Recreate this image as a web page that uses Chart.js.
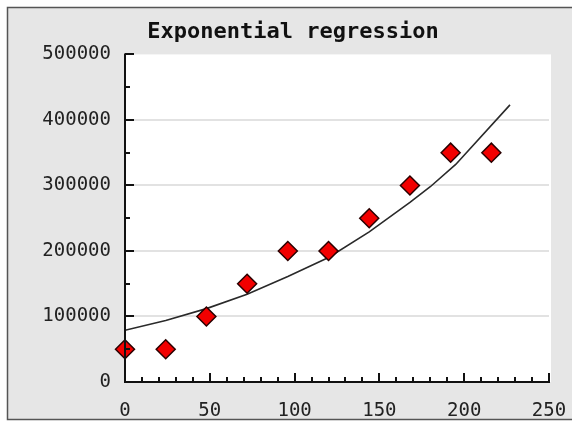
<!DOCTYPE html>
<html>
<head>
<meta charset="utf-8">
<script src="https://cdn.jsdelivr.net/npm/chart.js@4"></script>
<style>
html, body { margin: 0; padding: 0; background: #fff; }
</style>
</head>
<body>
<canvas id="myChart" width="572" height="421"></canvas>
<script>
// observed points
const pointX = [0, 24, 48, 72, 96, 120, 144, 168, 192, 216];
const pointY = [50000, 50000, 100000, 150000, 200000, 200000, 250000, 300000, 350000, 350000];

// regression curve
const fitX = [0, 24, 48, 72, 96, 120, 144, 168, 180, 195, 227];
const fitY = [79000, 94000, 112000, 134000, 161000, 190000, 229000, 274000, 298000, 332000, 423000];

const xTicks = [0, 50, 100, 150, 200, 250];
const yTicks = [0, 100000, 200000, 300000, 400000, 500000];

const tickFont = { family: 'DejaVu Sans Mono', size: 19 };

const frame = {
    id: 'frame',
    beforeDraw(chart) {
        const c = chart.ctx, a = chart.chartArea;
        c.save();
        c.fillStyle = '#fff';
        c.fillRect(0, 0, chart.width, chart.height);
        c.fillStyle = '#e6e6e6';
        c.fillRect(8, 8, chart.width, 411);
        c.strokeStyle = '#555';
        c.lineWidth = 1.5;
        c.strokeRect(7.5, 7.5, chart.width + 10, 412);
        c.fillStyle = '#fff';
        c.fillRect(a.left, a.top, a.right - a.left + 2, a.bottom - a.top);
        c.restore();
    },
    afterDatasetsDraw(chart) {
        // axis lines and inward ticks, drawn over the points like the original
        const c = chart.ctx, a = chart.chartArea;
        const xs = chart.scales.x, ys = chart.scales.y;
        c.save();
        c.strokeStyle = '#111';
        c.lineWidth = 2;
        c.beginPath();
        c.moveTo(a.left, a.top - 1);
        c.lineTo(a.left, a.bottom);
        c.lineTo(a.right + 1, a.bottom);
        xs.ticks.forEach(t => {
            const px = Math.round(xs.getPixelForValue(t.value));
            const len = xTicks.includes(t.value) ? 9 : 5;
            c.moveTo(px, a.bottom);
            c.lineTo(px, a.bottom - len);
        });
        ys.ticks.forEach(t => {
            const py = Math.round(ys.getPixelForValue(t.value));
            const len = yTicks.includes(t.value) ? 9 : 5;
            c.moveTo(a.left, py);
            c.lineTo(a.left + len, py);
        });
        c.stroke();
        c.restore();
    }
};

const ctx = document.getElementById('myChart');
new Chart(ctx, {
    type: 'scatter',
    data: {
        datasets: [{
            type: 'line',
            data: fitX.map((x, i) => ({ x: x, y: fitY[i] })),
            borderColor: '#2a2a2a',
            borderWidth: 1.6,
            pointRadius: 0,
            fill: false,
            tension: 0,
            order: 2
        }, {
            data: pointX.map((x, i) => ({ x: x, y: pointY[i] })),
            pointStyle: 'rectRot',
            pointRadius: 9.5,
            backgroundColor: '#f20000',
            borderColor: '#2a0000',
            borderWidth: 1.5,
            clip: false,
            order: 1
        }]
    },
    options: {
        responsive: false,
        animation: false,
        layout: { padding: { left: 37, right: 23, top: 0, bottom: 0 } },
        plugins: {
            legend: { display: false },
            tooltip: { enabled: false },
            title: {
                display: true,
                text: 'Exponential regression',
                color: '#111',
                font: { family: 'DejaVu Sans Mono', size: 22, weight: 'bold' },
                padding: { top: 19, bottom: 9 }
            }
        },
        scales: {
            x: {
                type: 'linear',
                min: 0,
                max: 250,
                afterFit: s => { s.height = 39; s.paddingLeft = 0; s.paddingRight = 0; },
                border: { display: false },
                grid: { display: false, drawTicks: false },
                ticks: {
                    stepSize: 10,
                    autoSkip: false,
                    maxRotation: 0,
                    padding: 18,
                    color: '#222',
                    font: tickFont,
                    callback: v => xTicks.includes(v) ? String(v) : ''
                }
            },
            y: {
                type: 'linear',
                min: 0,
                max: 500000,
                afterFit: s => { s.width = 88; },
                border: { display: false },
                grid: {
                    drawTicks: false,
                    lineWidth: 2,
                    color: c => (c.tick && yTicks.includes(c.tick.value) && c.tick.value > 0 && c.tick.value < 500000) ? '#e2e2e2' : 'rgba(0,0,0,0)'
                },
                ticks: {
                    stepSize: 50000,
                    autoSkip: false,
                    padding: 14,
                    color: '#222',
                    font: tickFont,
                    callback: v => yTicks.includes(v) ? String(v) : ''
                }
            }
        }
    },
    plugins: [frame]
});
</script>
</body>
</html>
